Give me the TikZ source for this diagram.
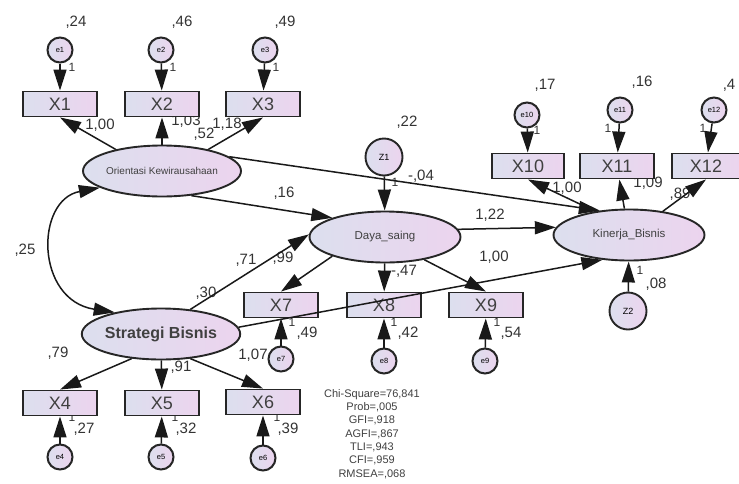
\documentclass[tikz,border=0pt]{standalone}
\usepackage{fontspec}
\setmainfont{Liberation Sans}
\usetikzlibrary{arrows.meta,shapes.geometric}
\definecolor{lavA}{RGB}{220,223,238}
\definecolor{lavB}{RGB}{236,212,238}
\begin{document}
\begin{tikzpicture}[x=1pt,y=-1pt,
  obsbox/.style={rectangle, draw=black!85, line width=1.9pt, left color=lavA, right color=lavB, minimum width=74pt, minimum height=25pt, inner sep=0pt, font=\fontsize{18}{18}\selectfont, text=black!75},
  latent/.style={ellipse, draw=black!85, line width=1.9pt, left color=lavA, right color=lavB, minimum width=151pt, minimum height=51pt, inner sep=0pt, text=black!75},
  errc/.style={circle, draw=black!85, line width=2pt, left color=lavA, right color=lavB, minimum size=25pt, inner sep=0pt, font=\fontsize{7.5}{7.5}\selectfont},
  distc/.style={circle, draw=black!85, line width=1.9pt, left color=lavA, right color=lavB, minimum size=37pt, inner sep=0pt, font=\fontsize{9}{9}\selectfont},
  coef/.style={inner sep=0pt, font=\fontsize{15}{15}\selectfont, text=black!80},
  one/.style={inner sep=0pt, font=\fontsize{12}{12}\selectfont, text=black!80},
  reg/.style={-{Triangle[length=21pt,width=13pt]}, line width=1.5pt, black!90},
  cov/.style={{Triangle[length=21pt,width=13pt]}-{Triangle[length=21pt,width=13pt]}, line width=1.5pt, black!90}]
\useasboundingbox (0,0) rectangle (739,483);

\node[coef] (v1) at (76,22) {,24};
\node[coef] (v2) at (182,22) {,46};
\node[coef] (v3) at (285,22) {,49};
\node[one] (o1) at (72,67) {1};
\node[one] (o2) at (173,67) {1};
\node[one] (o3) at (276,67) {1};
\node[coef] (l1) at (100,125) {1,00};
\node[coef] (l2) at (186,121) {1,03};
\node[coef] (l3) at (227,124) {1,18};
\node[coef] (vok) at (204,134) {,52};
\node[coef] (b1) at (284,193) {,16};
\node[coef] (b2) at (421,176) {-,04};
\node[coef] (vz1) at (407,122) {,22};
\node[one] (oz1) at (395,182) {1};
\node[coef] (b3) at (246,260) {,71};
\node[coef] (l7) at (283,258) {,99};
\node[coef] (vsb) at (206,293) {,30};
\node[coef] (c1) at (25,250) {,25};
\node[coef] (b4) at (490,215) {1,22};
\node[coef] (b5) at (494,257) {1,00};
\node[coef] (l8) at (404,271) {-,47};
\node[coef] (v10) at (545,85) {,17};
\node[coef] (v11) at (642,82) {,16};
\node[coef] (v12) at (729,85) {,4};
\node[one] (o10) at (537,130) {1};
\node[one] (o11) at (608,128) {1};
\node[one] (o12) at (703,128) {1};
\node[coef] (l10) at (567,188) {1,00};
\node[coef] (l11) at (648,183) {1,09};
\node[coef] (l12) at (680,194) {,89};
\node[one] (oz2) at (640,270) {1};
\node[coef] (vz2) at (656,284) {,08};
\node[coef] (l4) at (58,353) {,79};
\node[coef] (l5) at (181,367) {,91};
\node[coef] (l6) at (253,355) {1,07};
\node[one] (o4) at (72,417) {1};
\node[one] (o5) at (175,417) {1};
\node[one] (o6) at (277,417) {1};
\node[coef] (v4) at (84,429) {,27};
\node[coef] (v5) at (186,429) {,32};
\node[coef] (v6) at (288,429) {,39};
\node[one] (o7) at (292,322) {1};
\node[one] (o8) at (394,322) {1};
\node[one] (o9) at (497,322) {1};
\node[coef] (v7) at (307,333) {,49};
\node[coef] (v8) at (408,333) {,42};
\node[coef] (v9) at (511,333) {,54};

\node[errc] (e1) at (60,50) {e1};
\node[errc] (e2) at (161,50) {e2};
\node[errc] (e3) at (265,50) {e3};
\node[obsbox] (x1) at (60,104) {X1};
\node[obsbox] (x2) at (162,104) {X2};
\node[obsbox] (x3) at (263,104) {X3};
\node[latent, font=\fontsize{10}{10}\selectfont] (ok) at (162,171) {Orientasi Kewirausahaan};

\node[distc] (z1) at (384,157) {Z1};
\node[latent, font=\fontsize{11.5}{11.5}\selectfont] (ds) at (385,237) {Daya\_saing};
\node[obsbox] (x7) at (281,305) {X7};
\node[obsbox] (x8) at (384,305) {X8};
\node[obsbox] (x9) at (486,305) {X9};
\node[errc] (e7) at (281,359) {e7};
\node[errc] (e8) at (384,361) {e8};
\node[errc] (e9) at (485,361) {e9};

\node[errc] (e10) at (527,115) {e10};
\node[errc] (e11) at (620,110) {e11};
\node[errc] (e12) at (714,110) {e12};
\node[obsbox, minimum width=72pt] (x10) at (528,166) {X10};
\node[obsbox] (x11) at (617,166) {X11};
\node[obsbox, minimum width=68pt] (x12) at (706,166) {X12};
\node[latent, font=\fontsize{11.5}{11.5}\selectfont] (kb) at (629,235) {Kinerja\_Bisnis};
\node[distc] (z2) at (628,311) {Z2};

\node[latent, font=\bfseries\fontsize{16}{16}\selectfont] (sb) at (161,334) {Strategi Bisnis};
\node[obsbox] (x4) at (60,403) {X4};
\node[obsbox] (x5) at (162,403) {X5};
\node[obsbox] (x6) at (263,402) {X6};
\node[errc] (e4) at (60,457) {e4};
\node[errc] (e5) at (161,457) {e5};
\node[errc] (e6) at (263,458) {e6};

\node[align=center, inner sep=0pt, text=black!75, font=\fontsize{11}{13.3}\selectfont] (fit) at (372,434) {Chi-Square=76,841\\Prob=,005\\GFI=,918\\AGFI=,867\\TLI=,943\\CFI=,959\\RMSEA=,068};

\draw[reg] (e1) -- (x1);
\draw[reg] (e2) -- (x2);
\draw[reg] (e3) -- (x3);
\draw[reg] (ok.155) -- (x1.south);
\draw[reg] (ok) -- (x2);
\draw[reg] (ok.25) -- (x3.south);
\draw[cov] (ok.195) .. controls (35,200) and (35,300) .. (sb.155);
\draw[reg] (ok.-40) -- (ds.160);
\draw[reg] (ok.12) -- (kb.140);
\draw[reg] (z1) -- (ds);
\draw[reg] (sb.40) -- (ds.178);
\draw[reg] (ds.6) -- (kb.174);
\draw[reg] (sb.5) -- (kb.223);
\draw[reg] (ds.200) -- (x7.north);
\draw[reg] (ds) -- (x8);
\draw[reg] (ds.-30) -- (x9.north);
\draw[reg] (e7) -- (x7);
\draw[reg] (e8) -- (x8);
\draw[reg] (e9) -- (x9);
\draw[reg] (kb.145) -- (x10.south);
\draw[reg] (kb) -- (x11);
\draw[reg] (kb.35) -- (x12.south);
\draw[reg] (e10) -- (x10);
\draw[reg] (e11) -- (x11);
\draw[reg] (e12) -- (x12);
\draw[reg] (z2) -- (kb);
\draw[reg] (sb.-140) -- (x4.north);
\draw[reg] (sb) -- (x5);
\draw[reg] (sb.-40) -- (x6.north);
\draw[reg] (e4) -- (x4);
\draw[reg] (e5) -- (x5);
\draw[reg] (e6) -- (x6);
\end{tikzpicture}
\end{document}
